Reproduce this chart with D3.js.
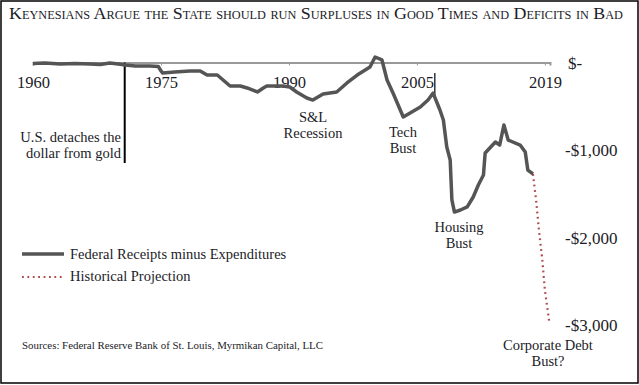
<!DOCTYPE html>
<html>
<head>
<meta charset="utf-8">
<script src="https://cdn.jsdelivr.net/npm/d3@7"></script>
<style>
  body { margin: 0; background: #fff; }
  svg { display: block; font-family: "Liberation Serif", "Times New Roman", serif; }
</style>
</head>
<body>
<svg id="chart" width="639" height="385"></svg>
<script>
// Federal receipts minus expenditures ($bn)
const balanceYears = [1960, 1961.4, 1963.2, 1964.9, 1966.7, 1967.9, 1969, 1970, 1970.8, 1972, 1973.7, 1974.7,
  1975, 1975.2, 1976.6, 1978.4, 1979.6, 1980.4, 1981.6, 1983.1, 1984.3, 1985.1, 1986.3, 1987, 1987.4,
  1989.3, 1990.1, 1990.9, 1992.1, 1992.8, 1994, 1995.6, 1996.8, 1998, 1999.5, 2000.1, 2000.9, 2001.5,
  2002.2, 2003.4, 2004.2, 2005.4, 2006.3, 2006.9, 2007.7, 2008.1, 2008.5, 2008.9, 2009.1, 2009.4,
  2010.1, 2010.9, 2011.6, 2012.2, 2012.8, 2013, 2014.2, 2014.7, 2015.2, 2015.7, 2017.1, 2017.7, 2018, 2018.6];
const balanceValues = [-11, -6, -17, -11, -17, -23, -6, -17, -29, -40, -40, -46,
  -97, -120, -109, -97, -97, -143, -143, -269, -269, -291, -337, -291, -269,
  -269, -280, -337, -406, -429, -360, -337, -234, -143, -51, 63, 29, -200,
  -349, -623, -577, -509, -429, -349, -543, -657, -966, -1114, -1571, -1709,
  -1686, -1651, -1537, -1400, -1286, -1034, -909, -943, -714, -886, -943, -1023, -1229, -1274];

// Projection
const projYears = [2018.6, 2018.97, 2019.3, 2019.7, 2020.0, 2020.5];
const projValues = [-1274, -1571, -1914, -2257, -2600, -2954];

// Axes
const xTickYears = [1960, 1975, 1990, 2005, 2020];
const xTickLabels = ['1960', '1975', '1990', '2005', '2019'];
const yTickValues = [0, -1000, -2000, -3000];
const yTickLabels = ['$-', '-$1,000', '-$2,000', '-$3,000'];

// Annotations
const notes = [
  { lines: ['U.S. detaches the', 'dollar from gold'] },
  { lines: ['S&L', 'Recession'] },
  { lines: ['Tech', 'Bust'] },
  { lines: ['Housing', 'Bust'] },
  { lines: ['Corporate Debt', 'Bust?'] }
];

const svg = d3.select('#chart');
const ink = '#1c1c28';

const x = d3.scaleLinear().domain([1960, 2020.6]).range([33, 550]);
const y = d3.scaleLinear().domain([-3000, 0]).range([325, 62.5]);

// Frame
svg.append('rect')
  .attr('x', 1).attr('y', 1).attr('width', 637).attr('height', 382)
  .attr('fill', 'none').attr('stroke', '#000').attr('stroke-width', 1.5);

// Title
svg.append('text')
  .attr('x', 316).attr('y', 19)
  .attr('text-anchor', 'middle')
  .attr('font-size', 17.5)
  .attr('textLength', 614)
  .attr('lengthAdjust', 'spacingAndGlyphs')
  .style('font-variant', 'small-caps')
  .attr('fill', ink)
  .text('Keynesians Argue the State should run Surpluses in Good Times and Deficits in Bad');

// Zero axis
const xAxis = d3.axisBottom(x)
  .tickValues(xTickYears)
  .tickFormat((d, i) => xTickLabels[i])
  .tickSize(3)
  .tickPadding(11);

const gx = svg.append('g')
  .attr('transform', `translate(0,${y(0)})`)
  .call(xAxis);
gx.select('.domain').attr('stroke', '#999').attr('stroke-width', 2);
gx.selectAll('.tick line').attr('stroke', '#999');
gx.selectAll('.tick text')
  .attr('font-family', '"Liberation Serif", serif')
  .attr('font-size', 16.5)
  .attr('fill', ink);

// Right value labels
svg.append('g').selectAll('text')
  .data(yTickValues)
  .join('text')
  .attr('x', d => d === 0 ? 568 : 565)
  .attr('y', d => y(d) + 6)
  .attr('font-size', 17)
  .attr('fill', ink)
  .text((d, i) => yTickLabels[i]);

// Annotation rules
svg.append('line')
  .attr('x1', x(1970.75)).attr('x2', x(1970.75))
  .attr('y1', y(0)).attr('y2', 163)
  .attr('stroke', '#000').attr('stroke-width', 2);
svg.append('line')
  .attr('x1', x(2007.1)).attr('x2', x(2007.1))
  .attr('y1', 73).attr('y2', 100)
  .attr('stroke', '#000').attr('stroke-width', 1.2);

// Lines
const balance = balanceYears.map((yr, i) => ({ yr, v: balanceValues[i] }));
const proj = projYears.map((yr, i) => ({ yr, v: projValues[i] }));
const line = d3.line().x(d => x(d.yr)).y(d => y(d.v));

svg.append('path')
  .datum(proj)
  .attr('d', line)
  .attr('fill', 'none')
  .attr('stroke', '#b04a4a')
  .attr('stroke-width', 2.2)
  .attr('stroke-dasharray', '1.8,3.6');

svg.append('path')
  .datum(balance)
  .attr('d', line)
  .attr('fill', 'none')
  .attr('stroke', '#555')
  .attr('stroke-width', 3.5)
  .attr('stroke-linejoin', 'round');

// Annotation text
const noteAnchor = ['end', 'middle', 'middle', 'middle', 'middle'];
const noteX = [121, 313, 403, 459, 548];
const noteY = [142, 122, 137, 232, 350];
notes.forEach((n, i) => {
  const t = svg.append('text')
    .attr('text-anchor', noteAnchor[i])
    .attr('font-size', 14.5)
    .attr('fill', ink);
  n.lines.forEach((l, j) => {
    t.append('tspan')
      .attr('x', noteX[i])
      .attr('y', noteY[i] + j * 16)
      .text(l);
  });
});

// Legend
const legend = svg.append('g');
legend.append('line')
  .attr('x1', 22).attr('x2', 64).attr('y1', 254).attr('y2', 254)
  .attr('stroke', '#555').attr('stroke-width', 3.5);
legend.append('line')
  .attr('x1', 22).attr('x2', 62).attr('y1', 277).attr('y2', 277)
  .attr('stroke', '#b04a4a').attr('stroke-width', 2.2).attr('stroke-dasharray', '1.8,3.6');
legend.append('text')
  .attr('x', 70).attr('y', 259)
  .attr('font-size', 14.5).attr('fill', ink)
  .text('Federal Receipts minus Expenditures');
legend.append('text')
  .attr('x', 70).attr('y', 281)
  .attr('font-size', 14.5).attr('fill', ink)
  .text('Historical Projection');

// Sources
svg.append('text')
  .attr('x', 22).attr('y', 349)
  .attr('font-size', 11).attr('fill', ink)
  .attr('textLength', 301)
  .attr('lengthAdjust', 'spacingAndGlyphs')
  .text('Sources: Federal Reserve Bank of St. Louis, Myrmikan Capital, LLC');
</script>
</body>
</html>
